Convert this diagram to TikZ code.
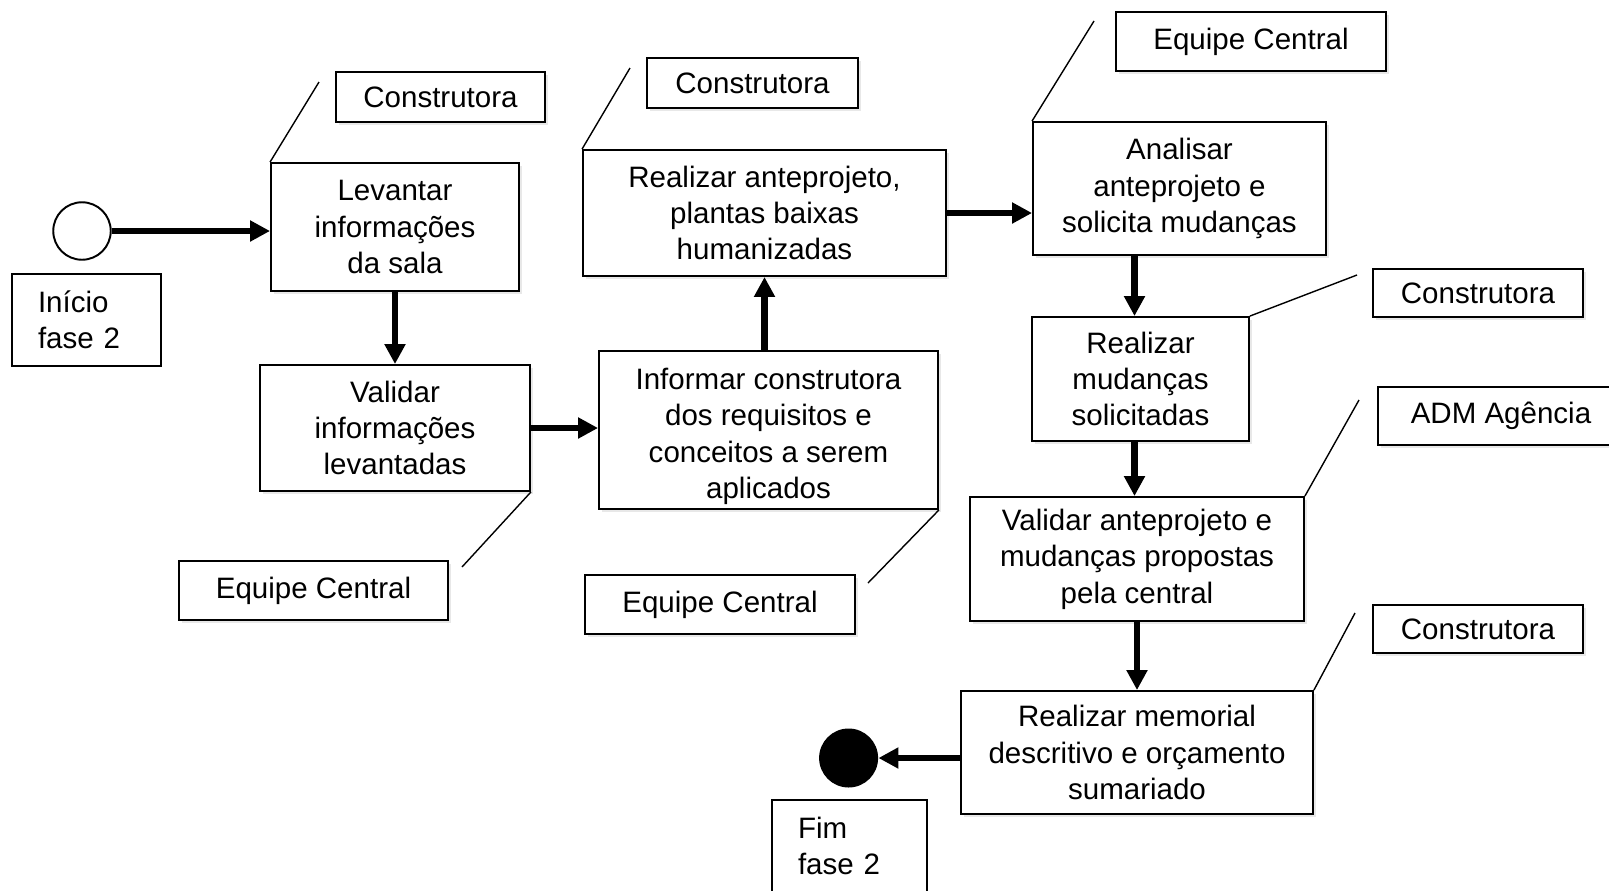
\documentclass[tikz,border=0pt]{standalone}
\usepackage{fontspec}
\setmainfont{Liberation Sans}
\usetikzlibrary{arrows.meta,shadows}
\begin{document}
\begin{tikzpicture}[x=0.02cm,y=-0.02cm,
  every node/.style={font=\fontsize{16.8}{20.7}\selectfont},
  caixa/.style={draw,line width=1.1pt,fill=white,align=center,inner sep=0pt,
    drop shadow={shadow xshift=0.06cm,shadow yshift=-0.06cm,opacity=0.18}},
  marco/.style={draw,line width=1pt,fill=white,align=left,inner xsep=0.52cm,inner ysep=0pt,minimum height=1.84cm},
  seta/.style={line width=3.8pt,-{Triangle[length=0.4cm,width=0.4cm]}},
  nota/.style={line width=0.8pt}]
\path[use as bounding box,clip] (0,0) rectangle (1609,890);
\node[circle,draw,line width=1.1pt,minimum size=1.15cm,inner sep=0pt] (inicio) at (82,231) {};
\node[marco,text width=1.94cm] (inicio txt) at (86.5,320) {Início\\fase 2};
\node[caixa,minimum width=4.96cm,minimum height=2.56cm] (levantar) at (395,227) {Levantar\\informações\\da sala};
\node[caixa,minimum width=5.4cm,minimum height=2.52cm] (validar) at (395,428) {Validar\\informações\\levantadas};
\node[caixa,minimum width=6.78cm,minimum height=3.16cm] (informar) at (768.5,430) {\rule{0pt}{0.68cm}Informar construtora\\dos requisitos e\\conceitos a serem\\aplicados};
\node[caixa,minimum width=7.26cm,minimum height=2.52cm] (anteprojeto) at (764.5,213) {Realizar anteprojeto,\\plantas baixas\\humanizadas};
\node[caixa,minimum width=5.86cm,minimum height=2.66cm] (analisar) at (1179.5,188.5) {Analisar\\anteprojeto e\\solicita mudanças};
\node[caixa,minimum width=4.34cm,minimum height=2.48cm] (mudancas) at (1140.5,379) {Realizar\\mudanças\\solicitadas};
\node[caixa,minimum width=6.68cm,minimum height=2.48cm] (validacao) at (1137,559) {Validar anteprojeto e\\mudanças propostas\\pela central};
\node[caixa,minimum width=7.04cm,minimum height=2.46cm] (memorial) at (1137,752.5) {Realizar memorial\\descritivo e orçamento\\sumariado};
\node[circle,fill=black,minimum size=1.18cm,inner sep=0pt] (fim) at (848.6,758) {};
\node[marco,text width=2.06cm] (fim txt) at (849.5,846) {Fim\\fase 2};
\node[caixa,minimum width=4.18cm,minimum height=1cm] (constr a) at (440.5,97) {Construtora};
\node[caixa,minimum width=4.22cm,minimum height=1cm] (constr b) at (752.5,83) {Construtora};
\node[caixa,minimum width=5.4cm,minimum height=1.18cm] (equipe c) at (1251,41.5) {Equipe Central};
\node[caixa,minimum width=4.2cm,minimum height=0.96cm] (constr c) at (1478,293) {Construtora};
\node[caixa,minimum width=4.92cm,minimum height=1.16cm] (adm) at (1501,416) {ADM Agência};
\node[caixa,minimum width=4.2cm,minimum height=0.96cm] (constr d) at (1478,629) {Construtora};
\node[caixa,minimum width=5.38cm,minimum height=1.18cm] (equipe a) at (313.5,590.5) {Equipe Central};
\node[caixa,minimum width=5.4cm,minimum height=1.18cm] (equipe b) at (720,604.5) {Equipe Central};
\coordinate (n1) at (319,82);
\coordinate (n2) at (630,68);
\coordinate (n3) at (1094,21);
\coordinate (n4) at (1357,275);
\coordinate (n5) at (1359,400);
\coordinate (n6) at (1355,613);
\coordinate (n7) at (462,567);
\coordinate (n8) at (868,583);
\draw[nota] (levantar.north west) -- (n1);
\draw[nota] (anteprojeto.north west) -- (n2);
\draw[nota] (analisar.north west) -- (n3);
\draw[nota] (mudancas.north east) -- (n4);
\draw[nota] (validacao.north east) -- (n5);
\draw[nota] (memorial.north east) -- (n6);
\draw[nota] (validar.south east) -- (n7);
\draw[nota] (informar.south east) -- (n8);
\draw[seta] (inicio) -- (inicio -| levantar.west);
\draw[seta] (levantar.south) -- (validar.north);
\draw[seta] (validar.east) -- (validar.east -| informar.west);
\draw[seta] (informar.north -| anteprojeto) -- (anteprojeto.south);
\draw[seta] (anteprojeto.east) -- (anteprojeto.east -| analisar.west);
\draw[seta] ([xshift=-0.12cm]analisar.south -| mudancas) -- ([xshift=-0.12cm]mudancas.north);
\draw[seta] ([xshift=-0.12cm]mudancas.south) -- ([xshift=-0.12cm]mudancas.south |- validacao.north);
\draw[seta] (validacao.south) -- (validacao.south |- memorial.north);
\draw[seta] (memorial.west |- fim) -- (fim);
\end{tikzpicture}
\end{document}
